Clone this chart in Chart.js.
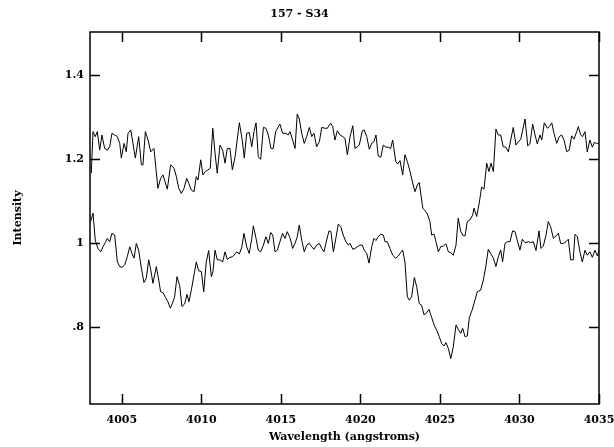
<!DOCTYPE html>
<html>
<head>
<meta charset="utf-8">
<script src="https://cdn.jsdelivr.net/npm/chart.js@4/dist/chart.umd.min.js"></script>
<style>
html,body{margin:0;padding:0;background:#fff;}
canvas{display:block;}
</style>
</head>
<body>
<canvas id="c" width="614" height="447"></canvas>
<script>
// Upper spectrum (wavelength, intensity)
const upperWave = [4003.08,4003.19,4003.33,4003.46,4003.61,4003.75,4003.92,4004.09,4004.24,4004.38,4004.55,4004.72,4004.87,4004.97,4005.14,4005.28,4005.39,4005.56,4005.70,4005.85,4006.06,4006.23,4006.33,4006.48,4006.65,4006.82,4007.02,4007.27,4007.44,4007.59,4007.86,4008.07,4008.28,4008.43,4008.58,4008.74,4008.91,4009.08,4009.21,4009.37,4009.54,4009.68,4009.79,4009.96,4010.10,4010.25,4010.42,4010.56,4010.72,4010.86,4011.00,4011.17,4011.34,4011.49,4011.63,4011.80,4011.95,4012.12,4012.39,4012.57,4012.70,4012.85,4013.01,4013.17,4013.31,4013.44,4013.58,4013.73,4013.90,4014.06,4014.21,4014.38,4014.52,4014.67,4014.94,4015.11,4015.32,4015.47,4015.57,4015.74,4015.89,4016.03,4016.16,4016.31,4016.47,4016.62,4016.79,4016.94,4017.08,4017.25,4017.42,4017.57,4017.77,4017.92,4018.13,4018.26,4018.40,4018.55,4018.72,4018.89,4019.03,4019.18,4019.35,4019.52,4019.66,4019.80,4019.93,4020.12,4020.24,4020.40,4020.56,4020.71,4020.85,4020.98,4021.12,4021.28,4021.44,4021.61,4021.75,4021.90,4022.03,4022.22,4022.34,4022.49,4022.66,4022.80,4022.95,4023.12,4023.29,4023.43,4023.58,4023.70,4023.92,4024.06,4024.21,4024.37,4024.48,4024.63,4024.75,4024.90,4025.05,4025.21,4025.38,4025.53,4025.68,4025.84,4026.01,4026.15,4026.31,4026.47,4026.58,4026.72,4026.89,4027.06,4027.14,4027.31,4027.47,4027.62,4027.77,4027.94,4028.08,4028.21,4028.36,4028.52,4028.67,4028.82,4028.98,4029.15,4029.30,4029.45,4029.61,4029.78,4029.93,4030.08,4030.35,4030.52,4030.66,4030.83,4030.98,4031.12,4031.29,4031.40,4031.56,4031.75,4031.88,4032.03,4032.17,4032.34,4032.50,4032.65,4032.80,4032.97,4033.13,4033.28,4033.43,4033.60,4033.70,4033.85,4033.97,4034.12,4034.26,4034.43,4034.58,4034.70,4034.85,4035.00];
const upperFlux = [1.166,1.265,1.253,1.265,1.221,1.257,1.225,1.221,1.229,1.261,1.257,1.253,1.237,1.202,1.237,1.217,1.261,1.269,1.237,1.202,1.253,1.186,1.186,1.265,1.245,1.217,1.225,1.130,1.154,1.162,1.128,1.186,1.178,1.158,1.130,1.118,1.130,1.154,1.142,1.126,1.122,1.158,1.150,1.198,1.162,1.170,1.174,1.178,1.273,1.214,1.166,1.233,1.221,1.190,1.225,1.225,1.174,1.205,1.286,1.245,1.202,1.261,1.263,1.229,1.265,1.286,1.205,1.199,1.275,1.273,1.257,1.225,1.225,1.265,1.283,1.261,1.261,1.257,1.265,1.245,1.225,1.307,1.295,1.261,1.237,1.253,1.275,1.253,1.261,1.229,1.241,1.275,1.273,1.273,1.285,1.277,1.245,1.267,1.257,1.253,1.249,1.210,1.253,1.279,1.225,1.229,1.233,1.267,1.269,1.253,1.223,1.237,1.241,1.257,1.207,1.204,1.233,1.228,1.228,1.225,1.245,1.194,1.188,1.196,1.162,1.210,1.194,1.170,1.142,1.122,1.138,1.144,1.083,1.077,1.069,1.051,1.019,1.021,1.003,0.979,0.991,0.993,0.998,0.979,0.977,0.971,0.995,1.059,1.027,1.017,1.017,1.051,1.055,1.067,1.083,1.063,1.095,1.133,1.128,1.190,1.170,1.190,1.170,1.271,1.257,1.257,1.229,1.228,1.217,1.245,1.275,1.233,1.241,1.247,1.295,1.231,1.236,1.283,1.257,1.236,1.257,1.245,1.286,1.273,1.277,1.286,1.261,1.237,1.253,1.257,1.245,1.217,1.221,1.255,1.247,1.265,1.277,1.257,1.253,1.265,1.217,1.245,1.228,1.239,1.237,1.237];

// Lower spectrum (wavelength, intensity)
const lowerWave = [4003.04,4003.19,4003.33,4003.50,4003.67,4003.82,4003.96,4004.09,4004.24,4004.38,4004.55,4004.72,4004.87,4005.01,4005.18,4005.34,4005.50,4005.64,4005.77,4005.91,4006.06,4006.23,4006.39,4006.54,4006.69,4006.82,4006.96,4007.17,4007.32,4007.44,4007.59,4007.73,4007.90,4008.05,4008.22,4008.32,4008.47,4008.64,4008.78,4008.95,4009.10,4009.22,4009.37,4009.54,4009.68,4009.83,4010.00,4010.15,4010.31,4010.46,4010.63,4010.73,4010.86,4011.00,4011.17,4011.34,4011.49,4011.63,4011.80,4011.95,4012.12,4012.22,4012.39,4012.54,4012.68,4012.85,4013.01,4013.17,4013.27,4013.44,4013.58,4013.73,4013.90,4014.06,4014.21,4014.36,4014.49,4014.63,4014.78,4014.94,4015.11,4015.26,4015.40,4015.57,4015.74,4015.89,4016.03,4016.16,4016.31,4016.47,4016.62,4016.79,4016.94,4017.08,4017.25,4017.42,4017.57,4017.71,4017.88,4018.03,4018.15,4018.30,4018.40,4018.61,4018.76,4018.92,4019.09,4019.24,4019.35,4019.52,4019.66,4019.80,4019.97,4020.12,4020.24,4020.40,4020.54,4020.71,4020.85,4020.98,4021.12,4021.28,4021.44,4021.55,4021.69,4021.86,4022.03,4022.22,4022.38,4022.53,4022.66,4022.80,4022.95,4023.07,4023.22,4023.39,4023.54,4023.70,4023.85,4024.00,4024.17,4024.31,4024.48,4024.63,4024.80,4024.96,4025.11,4025.26,4025.38,4025.53,4025.68,4025.84,4026.01,4026.15,4026.31,4026.43,4026.58,4026.72,4026.85,4027.02,4027.20,4027.35,4027.56,4027.73,4027.90,4028.04,4028.19,4028.36,4028.52,4028.67,4028.82,4028.94,4029.09,4029.23,4029.40,4029.57,4029.72,4029.86,4030.03,4030.18,4030.35,4030.56,4030.71,4030.87,4031.04,4031.23,4031.35,4031.50,4031.67,4031.81,4031.96,4032.13,4032.30,4032.44,4032.59,4032.76,4032.93,4033.07,4033.22,4033.38,4033.49,4033.64,4033.81,4033.95,4034.12,4034.26,4034.43,4034.58,4034.75,4034.90,4035.00];
const lowerFlux = [1.051,1.071,1.007,0.987,0.979,0.991,1.001,1.011,1.003,1.023,1.019,0.955,0.944,0.942,0.948,0.967,0.991,0.975,0.964,0.999,0.983,0.940,0.906,0.916,0.960,0.936,0.904,0.944,0.912,0.884,0.882,0.872,0.860,0.845,0.860,0.872,0.920,0.898,0.849,0.855,0.878,0.860,0.888,0.924,0.955,0.934,0.932,0.884,0.955,0.982,0.920,0.932,0.983,0.960,0.960,0.955,0.979,0.961,0.966,0.967,0.974,0.979,0.974,0.990,1.023,0.991,0.975,1.011,1.041,1.011,0.983,0.979,0.995,1.015,0.999,1.025,1.019,0.979,0.983,1.003,1.023,1.011,1.027,1.013,0.987,0.999,1.015,1.043,1.007,0.979,0.995,0.999,0.991,0.985,0.995,0.999,0.987,0.979,1.007,1.029,1.027,0.979,0.999,1.045,1.039,1.019,1.003,0.995,0.999,0.985,0.987,0.991,0.995,0.995,0.983,0.975,0.952,0.991,1.011,1.006,1.015,1.021,1.019,1.003,1.003,0.987,0.971,0.964,0.969,0.977,0.983,0.955,0.872,0.864,0.872,0.918,0.896,0.856,0.852,0.829,0.834,0.842,0.823,0.805,0.792,0.777,0.761,0.755,0.763,0.749,0.725,0.753,0.805,0.795,0.785,0.797,0.777,0.779,0.823,0.840,0.864,0.884,0.888,0.912,0.948,0.985,0.975,0.964,0.944,0.967,0.983,0.955,0.999,1.003,1.003,1.029,1.027,1.007,0.983,1.009,1.001,1.003,1.001,1.003,0.982,1.029,0.987,0.993,1.019,1.051,1.039,1.011,1.017,1.023,0.999,0.999,1.003,1.009,0.960,0.960,1.021,1.015,0.977,0.955,0.983,0.971,0.979,0.966,0.983,0.969,0.982];

const xTicks = [4005, 4010, 4015, 4020, 4025, 4030, 4035];
const yTicks = [0.8, 1.0, 1.2, 1.4];
const yTickLabels = ['.8', '1', '1.2', '1.4'];
const chartTitle = '157 - S34';
const xTitle = 'Wavelength (angstroms)';
const yTitle = 'Intensity';

const toPts = (xs, ys) => xs.map((x, i) => ({x: x, y: ys[i]}));

Chart.defaults.font.family = "'DejaVu Serif', serif";
Chart.defaults.font.weight = 'bold';
Chart.defaults.font.size = 11;
Chart.defaults.color = '#000';

const frameTicks = {
  id: 'frameTicks',
  afterDraw(chart) {
    const {ctx, chartArea: a, scales} = chart;
    ctx.save();
    ctx.strokeStyle = '#000';
    ctx.lineWidth = 1.5;
    const L = 10;
    ctx.beginPath();
    scales.x.ticks.forEach(t => {
      const px = Math.round(scales.x.getPixelForValue(t.value)) + 0.5;
      ctx.moveTo(px, a.bottom); ctx.lineTo(px, a.bottom - L);
      ctx.moveTo(px, a.top); ctx.lineTo(px, a.top + L);
    });
    scales.y.ticks.forEach(t => {
      const py = Math.round(scales.y.getPixelForValue(t.value)) + 0.5;
      ctx.moveTo(a.left, py); ctx.lineTo(a.left + L, py);
      ctx.moveTo(a.right, py); ctx.lineTo(a.right - L, py);
    });
    ctx.stroke();
    ctx.strokeRect(a.left, a.top, a.right - a.left, a.bottom - a.top);
    ctx.restore();
  }
};

new Chart(document.getElementById('c'), {
  type: 'scatter',
  data: {
    datasets: [
      {data: toPts(upperWave, upperFlux), showLine: true, borderColor: '#000', borderWidth: 1, pointRadius: 0, tension: 0},
      {data: toPts(lowerWave, lowerFlux), showLine: true, borderColor: '#000', borderWidth: 1, pointRadius: 0, tension: 0}
    ]
  },
  options: {
    responsive: false,
    animation: false,
    clip: true,
    layout: {padding: {left: 0, right: 15, top: 0, bottom: 0}},
    plugins: {
      legend: {display: false},
      tooltip: {enabled: false},
      title: {display: true, text: chartTitle, font: {size: 11, weight: 'bold'}, padding: {top: 8, bottom: 10.8}, color: '#000'}
    },
    scales: {
      x: {
        type: 'linear', position: 'bottom', min: 4003, max: 4035,
        afterBuildTicks: s => { s.ticks = xTicks.map(v => ({value: v})); },
        afterFit: s => { s.height = 43; s.paddingLeft = 0; s.paddingRight = 0; },
        grid: {display: false, drawTicks: false},
        border: {display: false},
        ticks: {padding: 10, maxRotation: 0, autoSkip: false, callback: v => String(v), font: {size: 11, weight: 'bold'}},
        title: {display: true, text: xTitle, font: {size: 11, weight: 'bold'}, padding: {top: 0, bottom: 3}}
      },
      y: {
        type: 'linear', position: 'left', min: 0.617, max: 1.502,
        afterBuildTicks: s => { s.ticks = yTicks.map(v => ({value: v})); },
        afterFit: s => { s.width = 90; s.paddingTop = 0; s.paddingBottom = 0; },
        grid: {display: false, drawTicks: false},
        border: {display: false},
        ticks: {padding: 6, autoSkip: false, callback: v => yTickLabels[yTicks.findIndex(t => Math.abs(t - v) < 1e-6)], font: {size: 11, weight: 'bold'}},
        title: {display: true, text: yTitle, font: {size: 11, weight: 'bold'}, padding: {top: 12, bottom: 0}}
      }
    }
  },
  plugins: [frameTicks]
});
</script>
</body>
</html>
